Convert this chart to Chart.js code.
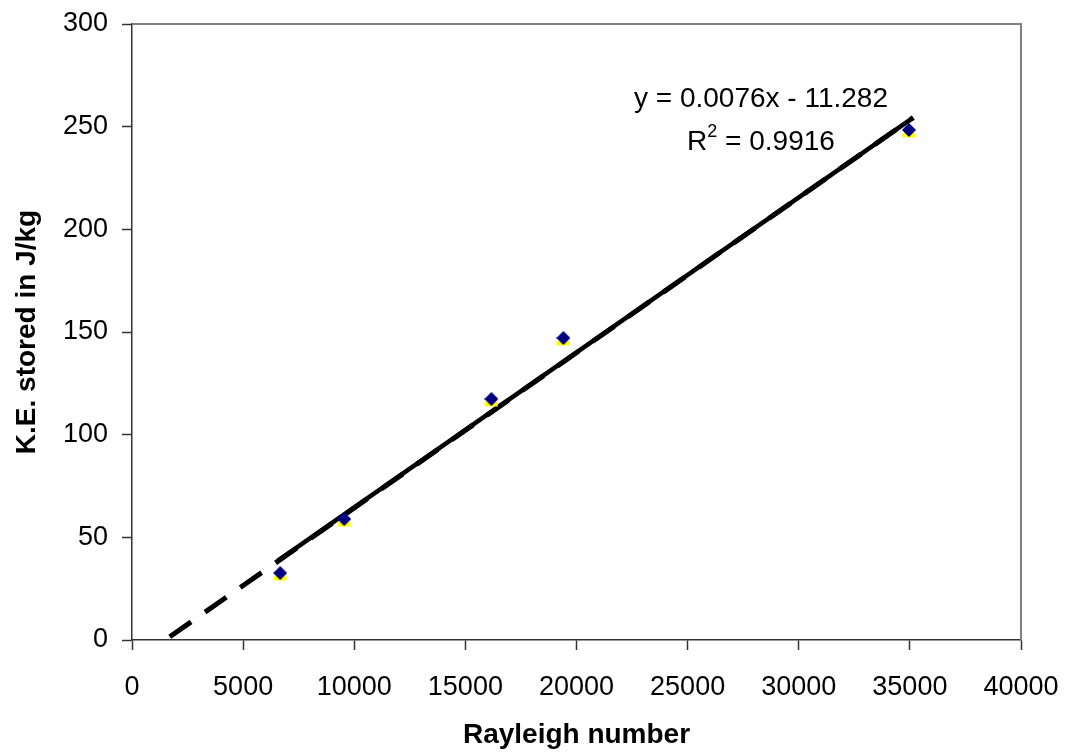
<html>
  <head>
    <script src="https://cdn.jsdelivr.net/npm/chart.js@4/dist/chart.umd.min.js"></script>
    <title>K.E. vs Rayleigh number</title>
    <style>
      body { margin:0; background-color:white; }
      #wrap { width:1072px; height:756px; }
    </style>
  </head>
  <body>
    <div id="wrap"><canvas id="ke-chart" width="1072" height="756"></canvas></div>
  </body>
  <script>
    // measured points
    var rayleigh = [6670, 9550, 16170, 19410, 34960];
    var keStored = [32.6, 58.9, 117.4, 147.1, 248.4];

    // trendline ends
    var trendX = [1700, 35150];
    var trendY = [1.6, 254.4];
    var solidX = [6550, 35150];
    var solidY = [38.5, 254.4];

    var xTicks = [0, 5000, 10000, 15000, 20000, 25000, 30000, 35000, 40000];
    var yTicks = [0, 50, 100, 150, 200, 250, 300];

    var eqLine1 = "y = 0.0076x - 11.282";
    var eqLine2a = "R";
    var eqLine2b = "2";
    var eqLine2c = " = 0.9916";

    function toPoints(xs, ys) {
      var pts = [];
      for (var i = 0; i < xs.length; i++) pts.push({x: xs[i], y: ys[i]});
      return pts;
    }

    // navy diamond with the little yellow bit under it
    function makeMarker() {
      var c = document.createElement('canvas');
      c.width = 14; c.height = 22;
      var g = c.getContext('2d');
      g.fillStyle = '#ffff00';
      g.fillRect(0.5, 14, 13, 4.5);
      g.fillStyle = '#000080';
      g.beginPath();
      g.moveTo(7, 4); g.lineTo(14, 11); g.lineTo(7, 18); g.lineTo(0, 11);
      g.closePath();
      g.fill();
      return c;
    }

    var frameAndText = {
      id: 'frameAndText',
      afterDatasetsDraw: function(chart) {
        var ctx = chart.ctx, a = chart.chartArea;
        ctx.save();
        ctx.strokeStyle = '#808080';
        ctx.lineWidth = 2;
        ctx.beginPath();
        ctx.moveTo(a.left, a.top); ctx.lineTo(a.right, a.top); ctx.lineTo(a.right, a.bottom);
        ctx.stroke();

        ctx.fillStyle = '#000';
        ctx.textBaseline = 'alphabetic';
        ctx.font = '28px "Liberation Sans", Arial, sans-serif';
        ctx.textAlign = 'center';
        ctx.fillText(eqLine1, 761, 107);

        // R^2 line, built from pieces
        var w1 = ctx.measureText(eqLine2a).width;
        var w3 = ctx.measureText(eqLine2c).width;
        ctx.font = '18px "Liberation Sans", Arial, sans-serif';
        var w2 = ctx.measureText(eqLine2b).width;
        var x0 = 761 - (w1 + w2 + w3) / 2;
        ctx.textAlign = 'left';
        ctx.font = '28px "Liberation Sans", Arial, sans-serif';
        ctx.fillText(eqLine2a, x0, 150);
        ctx.fillText(eqLine2c, x0 + w1 + w2, 150);
        ctx.font = '18px "Liberation Sans", Arial, sans-serif';
        ctx.fillText(eqLine2b, x0 + w1, 137);
        ctx.restore();
      }
    };

    var tickFont = {family: '"Liberation Sans", Arial, sans-serif', size: 27};
    var titleFont = {family: '"Liberation Sans", Arial, sans-serif', size: 28, weight: 'bold'};

    new Chart(document.getElementById('ke-chart'), {
      type: 'scatter',
      data: {
        datasets: [
          {
            label: 'trend solid',
            type: 'line',
            data: toPoints(solidX, solidY),
            borderColor: '#000',
            borderWidth: 4.5,
            pointRadius: 0,
            showLine: true,
            order: 3
          },
          {
            label: 'trend dashed',
            type: 'line',
            data: toPoints(trendX, trendY),
            borderColor: '#000',
            borderWidth: 5,
            borderDash: [26, 17],
            pointRadius: 0,
            showLine: true,
            order: 2
          },
          {
            label: 'K.E.',
            data: toPoints(rayleigh, keStored),
            pointStyle: makeMarker(),
            pointRadius: 7,
            order: 1
          }
        ]
      },
      options: {
        responsive: false,
        animation: false,
        layout: {padding: {top: 24, right: 51, left: 0, bottom: 0}},
        plugins: {legend: {display: false}, tooltip: {enabled: false}},
        scales: {
          x: {
            type: 'linear',
            min: 0, max: 40000,
            afterBuildTicks: function(s) { s.ticks = xTicks.map(function(v) { return {value: v}; }); },
            afterFit: function(s) { s.height = 116; s.paddingLeft = 0; s.paddingRight = 0; },
            grid: {drawOnChartArea: false, tickLength: 10, tickColor: '#333', tickWidth: 1.5},
            border: {color: '#333', width: 1.5},
            ticks: {color: '#000', font: tickFont, padding: 21, maxRotation: 0,
              callback: function(v) { return String(v); }},
            title: {display: true, text: 'Rayleigh number', color: '#000', font: titleFont, padding: {top: 0, bottom: 4}}
          },
          y: {
            type: 'linear',
            min: 0, max: 300,
            afterBuildTicks: function(s) { s.ticks = yTicks.map(function(v) { return {value: v}; }); },
            afterFit: function(s) { s.width = 132; s.paddingTop = 0; s.paddingBottom = 0; },
            grid: {drawOnChartArea: false, tickLength: 10, tickColor: '#333', tickWidth: 1.5},
            border: {color: '#333', width: 1.5},
            ticks: {color: '#000', font: tickFont, padding: 14,
              callback: function(v) { return String(v); }},
            title: {display: true, text: 'K.E. stored in J/kg', color: '#000', font: titleFont, padding: {top: 10, bottom: 0}}
          }
        }
      },
      plugins: [frameAndText]
    });
  </script>
</html>
